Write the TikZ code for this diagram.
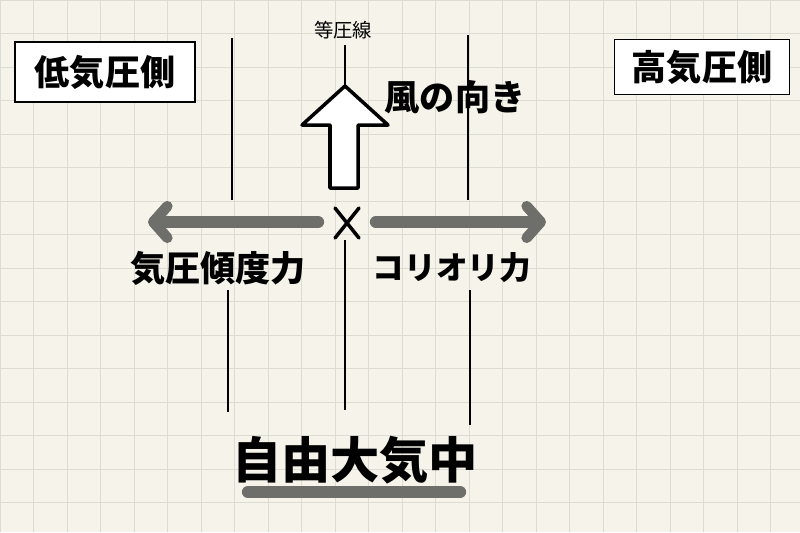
\documentclass[tikz,border=0pt]{standalone}
\usepackage{fontspec}
\newfontfamily\cjk{Noto Sans CJK JP}
\usetikzlibrary{arrows.meta}
\definecolor{paper}{HTML}{F5F3EA}
\definecolor{gridc}{HTML}{DCDCD2}
\definecolor{forcegray}{HTML}{6E6E6A}
\tikzset{
  px/.style={x=0.02cm,y=-0.02cm},
  iso/.style={draw=black,line width=0.6pt},
  label/.style={font=\cjk\bfseries\fontsize{20}{22}\selectfont,inner sep=1pt},
  boxlab/.style={label,draw=black,line width=0.8pt,inner sep=5pt,fill=white},
  force/.style={draw=forcegray,line width=7pt,line cap=round,-{Straight Barb[length=8pt,width=18pt,line width=6pt,round]}}
}
\begin{document}
\begin{tikzpicture}[px]
\fill[paper] (0,0) rectangle (800,532);
\useasboundingbox (0,0) rectangle (800,532);
\foreach \x in {0,33.5,...,800} \draw[gridc,line width=0.5pt] (\x,0) -- (\x,532);
\foreach \y in {0,33.5,...,532} \draw[gridc,line width=0.5pt] (0,\y) -- (800,\y);
\node[boxlab,minimum width=3.6cm,minimum height=1.2cm] (low) at (105,72) {低気圧側};
\node[boxlab,minimum width=3.5cm,minimum height=1.1cm] (high) at (702,67) {高気圧側};
\node[font=\cjk\fontsize{11}{12}\selectfont] (iso) at (343,30) {等圧線};
\coordinate (a1) at (232,38); \coordinate (a2) at (232,200);
\coordinate (a3) at (228,290); \coordinate (a4) at (228,412);
\coordinate (b1) at (345,45); \coordinate (b2) at (345,86);
\coordinate (b3) at (345,240); \coordinate (b4) at (345,410);
\coordinate (c1) at (468,35); \coordinate (c2) at (468,200);
\coordinate (c3) at (470,290); \coordinate (c4) at (470,425);
\draw[iso] (a1)--(a2) (a3)--(a4) (b1)--(b2) (b3)--(b4) (c1)--(c2) (c3)--(c4);
\draw[black,line width=2pt,fill=white,line join=round] (330,188) -- (330,125) -- (302,125) -- (345,86) -- (388,125) -- (358,125) -- (358,188) -- cycle;
\node[label] (wind) at (455,97) {風の向き};
\coordinate (x) at (347,222);
\draw[black,line width=2pt,line cap=round] (335,208) -- (359,238) (359,208) -- (335,238);
\draw[force] (318,222) -- (148,222);
\draw[force] (376,222) -- (546,222);
\node[label] (pg) at (218,268) {気圧傾度力};
\node[label,font=\cjk\bfseries\fontsize{18}{20}\selectfont] (co) at (452,268) {コリオリ力};
\node[label,font=\cjk\bfseries\fontsize{28}{30}\selectfont] (free) at (355,460) {自由大気中};
\draw[forcegray,line width=7pt,line cap=round] (248,492) -- (460,492);
\end{tikzpicture}
\end{document}
